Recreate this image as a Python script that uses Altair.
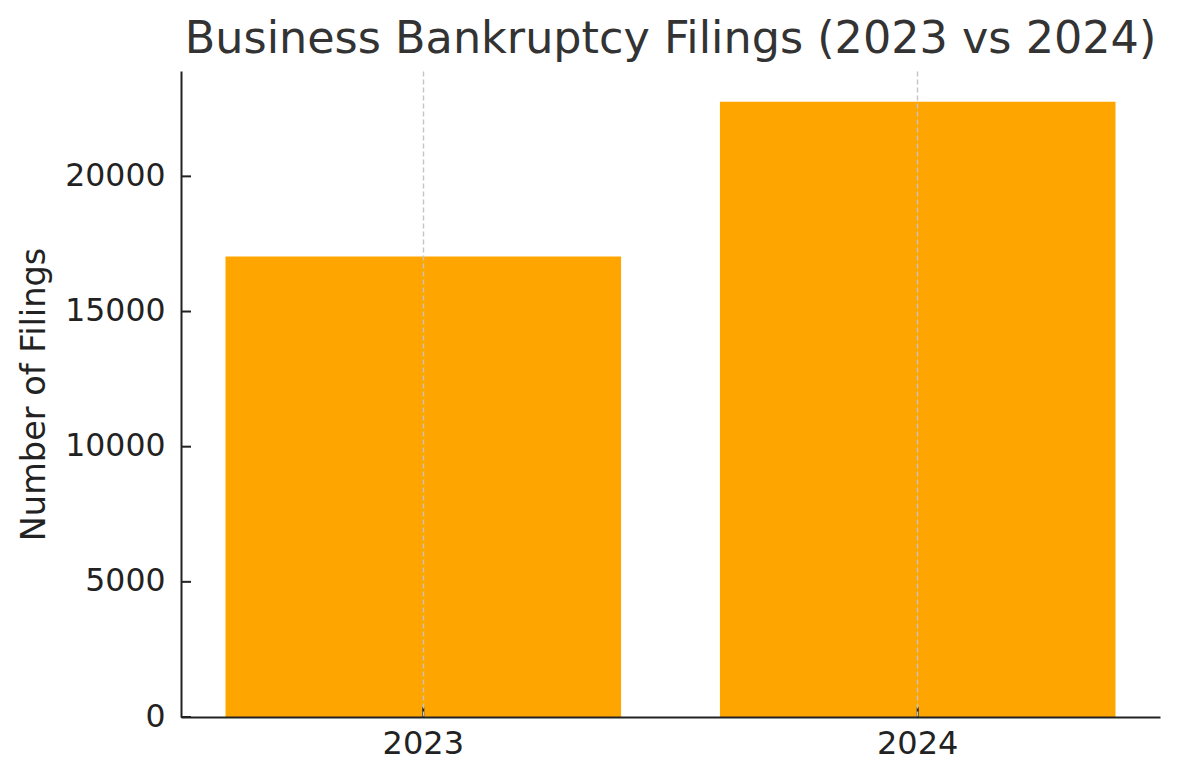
import altair as alt
import pandas as pd

years = ["2023", "2024"]
filings = [17040, 22760]
y_ticks = [0, 5000, 10000, 15000, 20000]

df = pd.DataFrame({"year": years, "filings": filings})
tick_df = pd.DataFrame({"v": y_ticks})

FONT = "DejaVu Sans"
DARK = "#222222"
W, H = 979, 646

x_scale = alt.Scale(paddingInner=0.2, paddingOuter=0.09)
y_scale = alt.Scale(domain=[0, 23898], nice=False, zero=True)

x_axis = alt.Axis(title=None, labelAngle=0, labelFontSize=32, labelPadding=11,
                  labelColor=DARK, ticks=False, domain=True, domainColor=DARK,
                  domainWidth=2, grid=True, gridDash=[5, 3], gridColor="#c4c4c4",
                  gridWidth=1.4, bandPosition=0.5, zindex=1, labelFont=FONT)
y_axis = alt.Axis(values=y_ticks, format="d", title="Number of Filings",
                  titleFontSize=33.6, titleFontWeight="normal", titleColor=DARK,
                  titlePadding=13, labelFontSize=31.5, labelColor=DARK,
                  labelPadding=16, ticks=False, grid=False, domain=True,
                  domainColor=DARK, domainWidth=2, labelFont=FONT, titleFont=FONT)

bars = alt.Chart(df).mark_bar(color="#FFA500").encode(
    x=alt.X("year:N", scale=x_scale, axis=x_axis),
    y=alt.Y("filings:Q", scale=y_scale, axis=y_axis),
)

xticks = alt.Chart(df).mark_tick(color=DARK, orient="vertical", size=10,
                                 thickness=2, opacity=1).encode(
    x=alt.X("year:N", scale=x_scale, axis=x_axis),
    y=alt.value(H - 5),
)

yticks = alt.Chart(tick_df).mark_tick(color=DARK, orient="horizontal", size=10,
                                      thickness=2, opacity=1).encode(
    y=alt.Y("v:Q", scale=y_scale, axis=y_axis),
    x=alt.value(5),
)

chart = alt.layer(bars, xticks, yticks).properties(
    width=W,
    height=H,
    autosize=alt.AutoSizeParams(type="none"),
    padding={"left": 173, "top": 63, "right": 12, "bottom": 60},
    title=alt.TitleParams("Business Bankruptcy Filings (2023 vs 2024)", fontSize=44.5,
                          font=FONT, fontWeight="normal", color="#333333",
                          anchor="middle", offset=9),
).configure(font=FONT).configure_view(stroke=None)

chart.save("out.html", embed_options={"renderer": "svg", "actions": False})
